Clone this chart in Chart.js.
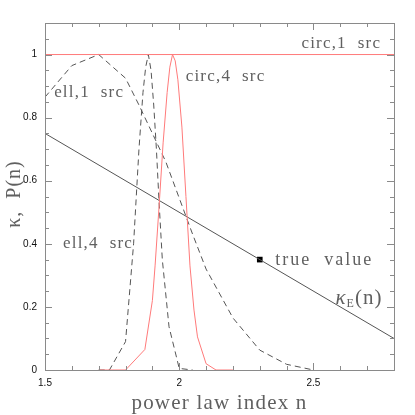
<!DOCTYPE html>
<html>
<head>
<meta charset="utf-8">
<script src="https://cdn.jsdelivr.net/npm/chart.js@4/dist/chart.umd.min.js"></script>
<style>
  html, body { margin: 0; padding: 0; background: #fff; }
  #wrap { width: 415px; height: 415px; }
</style>
</head>
<body>
<div id="wrap"><canvas id="c" width="415" height="415"></canvas></div>
<script>
// power law index n on x, kappa / P(n) on y
const ell1N = [1.5, 1.6, 1.7, 1.8, 1.85, 1.9, 1.95, 2.0, 2.05, 2.1, 2.2, 2.3, 2.4, 2.5]
const ell1P = [0.865, 0.965, 1.0, 0.925, 0.84, 0.75, 0.66, 0.545, 0.43, 0.32, 0.165, 0.063, 0.018, 0.0]

const ell4N = [1.70, 1.74, 1.80, 1.83, 1.85, 1.865, 1.875, 1.885, 1.895, 1.905, 1.915, 1.925, 1.937, 1.962, 2.0, 2.05]
const ell4P = [0.0, 0.0, 0.09, 0.40, 0.70, 0.88, 0.96, 1.0, 0.95, 0.84, 0.70, 0.53, 0.35, 0.137, 0.005, 0.0]

const circ4N = [1.70, 1.80, 1.872, 1.90, 1.91, 1.925, 1.94, 1.955, 1.965, 1.975, 1.985, 1.995, 2.01, 2.025, 2.04, 2.055, 2.068, 2.10, 2.137, 2.2]
const circ4P = [0.0, 0.0, 0.065, 0.22, 0.33, 0.52, 0.72, 0.88, 0.96, 1.0, 0.98, 0.92, 0.77, 0.55, 0.33, 0.19, 0.105, 0.02, 0.0, 0.0]

const circ1N = [1.5, 2.8]
const circ1P = [1.0, 1.0]

const kappaN = [1.5, 2.8]
const kappaE = [0.75, 0.10]

const trueN = [2.3]
const trueK = [0.35]

const xMajor = [1.5, 2, 2.5]
const yMajor = [0, 0.2, 0.4, 0.6, 0.8, 1]
const xMinorStep = 0.1
const yMinorStep = 0.05

const labels = [
    {text: "circ,1  src", n: 2.455, v: 1.035},
    {text: "circ,4  src", n: 2.024, v: 0.93},
    {text: "ell,1  src", n: 1.534, v: 0.88},
    {text: "ell,4  src", n: 1.567, v: 0.40},
]

function pts(xs, ys){
    return xs.map((x, i) => ({x: x, y: ys[i]}))
}

const serif = "'Liberation Serif', 'Times New Roman', serif"
const sans = "'Liberation Sans', Arial, sans-serif"
const frameColor = "#8a8a8a"
const inkColor = "#555"
const textColor = "#606060"

const framePlugin = {
    id: "frame",
    afterDatasetsDraw(chart){
        const ctx = chart.ctx
        const a = chart.chartArea
        const xs = chart.scales.x
        const ys = chart.scales.y
        ctx.save()
        ctx.strokeStyle = frameColor
        ctx.lineWidth = 1
        ctx.strokeRect(Math.round(a.left) + 0.5, Math.round(a.top) + 0.5, Math.round(a.right - a.left), Math.round(a.bottom - a.top))

        ctx.beginPath()
        // x ticks, inside, top and bottom
        for (let k = 0; ; k++){
            const v = xs.min + k * xMinorStep
            if (v > xs.max + 1e-9) break
            const major = xMajor.some(m => Math.abs(m - v) < 1e-6)
            const len = major ? 7 : 4
            const px = Math.round(xs.getPixelForValue(v)) + 0.5
            ctx.moveTo(px, a.bottom); ctx.lineTo(px, a.bottom - len)
            ctx.moveTo(px, a.top); ctx.lineTo(px, a.top + len)
        }
        for (let k = 0; ; k++){
            const v = ys.min + k * yMinorStep
            if (v > ys.max + 1e-9) break
            const major = yMajor.some(m => Math.abs(m - v) < 1e-6)
            const len = major ? 7 : 4
            const py = Math.round(ys.getPixelForValue(v)) + 0.5
            ctx.moveTo(a.left, py); ctx.lineTo(a.left + len, py)
            ctx.moveTo(a.right, py); ctx.lineTo(a.right - len, py)
        }
        ctx.stroke()

        // tick labels from the scales' own ticks
        ctx.fillStyle = "#111"
        ctx.font = "10px " + sans
        ctx.textBaseline = "middle"
        ctx.textAlign = "center"
        xs.ticks.forEach(t => ctx.fillText(String(t.value), xs.getPixelForValue(t.value), a.bottom + 13))
        ctx.textAlign = "right"
        ys.ticks.forEach(t => ctx.fillText(String(t.value), a.left - 8, ys.getPixelForValue(t.value)))

        // axis titles
        ctx.fillStyle = textColor
        ctx.textAlign = "center"
        ctx.font = "21px " + serif
        ctx.letterSpacing = "1.2px"
        ctx.fillText("power law index n", (a.left + a.right) / 2, 403)
        ctx.save()
        ctx.translate(15, 194)
        ctx.rotate(-Math.PI / 2)
        ctx.font = "20px " + serif
        ctx.letterSpacing = "1px"
        ctx.fillText("κ,  P(n)", 0, 0)
        ctx.restore()

        // curve labels
        ctx.textAlign = "left"
        ctx.font = "17px " + serif
        ctx.letterSpacing = "1.2px"
        labels.forEach(l => {
            ctx.fillText(l.text, xs.getPixelForValue(l.n), ys.getPixelForValue(l.v))
        })

        ctx.font = "18px " + serif
        ctx.letterSpacing = "2px"
        ctx.fillText("true  value", xs.getPixelForValue(2.358), ys.getPixelForValue(0.348))

        // kappa_E(n)
        let px = xs.getPixelForValue(2.582)
        const py = ys.getPixelForValue(0.228)
        ctx.letterSpacing = "0px"
        ctx.font = "italic 21px " + serif
        ctx.fillText("κ", px, py)
        px += ctx.measureText("κ").width + 1
        ctx.font = "12px " + serif
        ctx.fillText("E", px, py + 6)
        px += ctx.measureText("E").width + 1
        ctx.font = "21px " + serif
        ctx.letterSpacing = "1px"
        ctx.fillText("(n)", px, py)
        ctx.restore()
    }
}

const ctx = document.getElementById("c").getContext("2d")

const config = {
    type: "line",
    data: {
        datasets: [
            {data: pts(circ1N, circ1P), borderColor: "#ff7a7a", borderWidth: 1},
            {data: pts(circ4N, circ4P), borderColor: "#ff7a7a", borderWidth: 1},
            {data: pts(ell1N, ell1P), borderColor: inkColor, borderWidth: 1, borderDash: [6, 4]},
            {data: pts(ell4N, ell4P), borderColor: inkColor, borderWidth: 1, borderDash: [6, 4]},
            {data: pts(kappaN, kappaE), borderColor: inkColor, borderWidth: 1},
            {data: pts(trueN, trueK), showLine: false, pointRadius: 4, pointStyle: "rect",
                pointBackgroundColor: "#000", pointBorderColor: "#000", pointBorderWidth: 0},
        ]
    },
    options: {
        responsive: false,
        animation: false,
        devicePixelRatio: 1,
        layout: {padding: {top: 23, right: 21, left: 0, bottom: 0}},
        elements: {
            point: {radius: 0},
            line: {tension: 0},
        },
        plugins: {
            legend: {display: false},
            tooltip: {enabled: false},
        },
        scales: {
            x: {
                type: "linear",
                min: 1.5,
                max: 2.8,
                grid: {display: false},
                border: {display: false},
                afterFit(scale){ scale.height = 45 },
                afterBuildTicks(scale){ scale.ticks = xMajor.map(v => ({value: v})) },
                ticks: {display: false},
            },
            y: {
                type: "linear",
                min: 0,
                max: 1.1,
                grid: {display: false},
                border: {display: false},
                afterFit(scale){ scale.width = 45 },
                afterBuildTicks(scale){ scale.ticks = yMajor.map(v => ({value: v})) },
                ticks: {display: false},
            },
        },
    },
    plugins: [framePlugin],
}

new Chart(ctx, config)
</script>
</body>
</html>
